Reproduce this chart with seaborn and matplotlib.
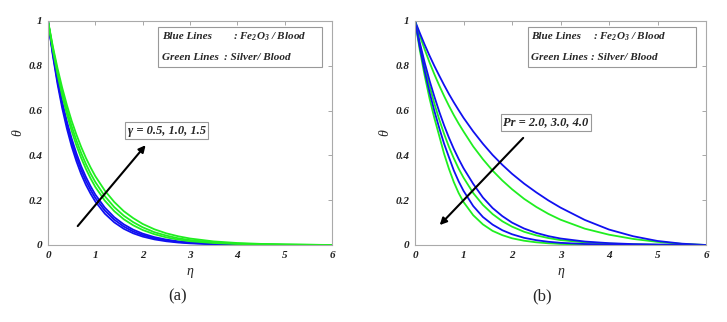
import matplotlib
matplotlib.use("Agg")
import matplotlib.pyplot as plt
import matplotlib.patches as patches
import seaborn as sns

sns.set_style("white")
plt.rcParams["font.family"] = ["Liberation Serif", "DejaVu Serif"]
plt.rcParams["mathtext.fontset"] = "custom"
plt.rcParams["mathtext.rm"] = "Liberation Serif:bold:italic"
plt.rcParams["mathtext.it"] = "Liberation Serif:bold:italic"

# ---- data ----
eta = [0, 0.1, 0.2, 0.3, 0.4, 0.5, 0.6, 0.7, 0.8, 0.9, 1.0, 1.2, 1.4, 1.6, 1.8,
       2.0, 2.25, 2.5, 2.75, 3.0, 3.5, 4.0, 4.5, 5.0, 5.5, 6.0]

# (a) gamma = 0.5, 1.0, 1.5  (blue: Fe2O3/Blood, green: Silver/Blood)
a_blue = [
    [1, 0.849, 0.720, 0.611, 0.519, 0.440, 0.374, 0.317, 0.269, 0.229, 0.194, 0.140, 0.101, 0.0725, 0.0522,
     0.0376, 0.0250, 0.0166, 0.0110, 0.0073, 0.0032, 0.0014, 0.0006, 0.0003, 0.0001, 0],
    [1, 0.856, 0.732, 0.626, 0.536, 0.458, 0.392, 0.336, 0.287, 0.246, 0.210, 0.154, 0.113, 0.0824, 0.0603,
     0.0442, 0.0299, 0.0202, 0.0137, 0.0093, 0.0043, 0.0019, 0.0009, 0.0004, 0.0002, 0],
    [1, 0.862, 0.742, 0.640, 0.551, 0.475, 0.409, 0.352, 0.304, 0.262, 0.225, 0.167, 0.124, 0.0922, 0.0684,
     0.0508, 0.0350, 0.0241, 0.0166, 0.0114, 0.0054, 0.0026, 0.0012, 0.0006, 0.0003, 0],
]
a_green = [
    [1, 0.874, 0.763, 0.667, 0.583, 0.509, 0.445, 0.389, 0.340, 0.297, 0.259, 0.198, 0.151, 0.115, 0.088,
     0.067, 0.048, 0.034, 0.024, 0.017, 0.0089, 0.0045, 0.0023, 0.0012, 0.0006, 0],
    [1, 0.881, 0.776, 0.683, 0.602, 0.530, 0.467, 0.411, 0.362, 0.319, 0.281, 0.218, 0.169, 0.131, 0.102,
     0.079, 0.057, 0.042, 0.030, 0.022, 0.012, 0.0062, 0.0033, 0.0017, 0.0009, 0],
    [1, 0.889, 0.790, 0.702, 0.624, 0.554, 0.493, 0.438, 0.389, 0.346, 0.307, 0.243, 0.192, 0.151, 0.120,
     0.094, 0.070, 0.052, 0.039, 0.029, 0.016, 0.0089, 0.0049, 0.0027, 0.0012, 0],
]

# (b) Pr = 2.0, 3.0, 4.0
b_blue = [
    [1, 0.946, 0.894, 0.845, 0.799, 0.756, 0.714, 0.674, 0.637, 0.602, 0.568, 0.507, 0.452, 0.402, 0.358,
     0.318, 0.274, 0.235, 0.199, 0.167, 0.112, 0.069, 0.039, 0.018, 0.006, 0],
    [1, 0.902, 0.814, 0.734, 0.662, 0.595, 0.534, 0.479, 0.429, 0.384, 0.343, 0.273, 0.212, 0.165, 0.129,
     0.100, 0.0735, 0.054, 0.0396, 0.029, 0.0155, 0.0082, 0.004, 0.002, 0.001, 0],
    [1, 0.882, 0.776, 0.682, 0.598, 0.522, 0.452, 0.392, 0.333, 0.284, 0.242, 0.174, 0.125, 0.091, 0.066,
     0.048, 0.032, 0.0215, 0.0144, 0.0097, 0.0044, 0.002, 0.0009, 0.0004, 0.0002, 0],
]
b_green = [
    [1, 0.934, 0.873, 0.815, 0.762, 0.712, 0.665, 0.621, 0.580, 0.542, 0.507, 0.440, 0.383, 0.332, 0.288,
     0.249, 0.206, 0.170, 0.139, 0.113, 0.073, 0.046, 0.027, 0.014, 0.005, 0],
    [1, 0.893, 0.796, 0.710, 0.631, 0.560, 0.496, 0.438, 0.387, 0.341, 0.301, 0.232, 0.179, 0.138, 0.106,
     0.082, 0.059, 0.043, 0.031, 0.022, 0.0117, 0.0061, 0.003, 0.0015, 0.0007, 0],
    [1, 0.869, 0.756, 0.654, 0.566, 0.487, 0.407, 0.340, 0.281, 0.232, 0.192, 0.133, 0.092, 0.063, 0.044,
     0.030, 0.019, 0.012, 0.0076, 0.0048, 0.0019, 0.0008, 0.0003, 0.0001, 0, 0],
]

x_ticks = [0, 1, 2, 3, 4, 5, 6]
x_tick_labels = ["0", "1", "2", "3", "4", "5", "6"]
y_ticks = [0, 0.2, 0.4, 0.6, 0.8, 1.0]
y_tick_labels = ["0", "0.2", "0.4", "0.6", "0.8", "1"]

BLUE = "#1010f0"
GREEN = "#20ee20"
EDGE = "#999999"


def style_axes(ax):
    ax.set_xlim(0, 6)
    ax.set_ylim(0, 1)
    ax.set_xticks(x_ticks)
    ax.set_xticklabels(x_tick_labels)
    ax.set_yticks(y_ticks)
    ax.set_yticklabels(y_tick_labels)
    ax.tick_params(direction="in", length=3, width=0.6, color=EDGE,
                   top=True, right=True, pad=4, labelsize=8, labelcolor="#222222")
    for lab in ax.get_xticklabels() + ax.get_yticklabels():
        lab.set_fontweight("bold")
        lab.set_fontstyle("italic")
    for s in ax.spines.values():
        s.set_color("#aaaaaa")
        s.set_linewidth(0.8)
    ax.set_xlabel("η", fontsize=10, fontstyle="italic", labelpad=4)
    ax.set_ylabel("θ", fontsize=10, fontstyle="italic", labelpad=3)


def legend_box(ax, lab_x, val_x1, val_x2):
    ax.add_patch(patches.Rectangle((0.388, 0.795), 0.577, 0.178, transform=ax.transAxes,
                                   facecolor="white", edgecolor=EDGE, linewidth=0.8, zorder=5))
    kw = dict(transform=ax.transAxes, fontsize=8, fontweight="bold", fontstyle="italic",
              va="center", ha="left", zorder=6)
    ax.text(lab_x, 0.929, "Blue Lines", **kw)
    ax.text(lab_x, 0.839, "Green Lines", **kw)
    ax.text(val_x1, 0.929, ": Fe$_2$O$_3$ / Blood", **kw)
    ax.text(val_x2, 0.839, ": Silver/ Blood", **kw)


fig = plt.figure(figsize=(7.27, 3.22), dpi=100)
ax_a = fig.add_axes([48 / 727, 77 / 322, 284 / 727, 224 / 322])
ax_b = fig.add_axes([415 / 727, 77 / 322, 291 / 727, 224 / 322])

# panel (a)
for vals in a_blue:
    sns.lineplot(x=eta, y=vals, ax=ax_a, color=BLUE, linewidth=1.3)
for vals in a_green:
    sns.lineplot(x=eta, y=vals, ax=ax_a, color=GREEN, linewidth=1.3)
style_axes(ax_a)
legend_box(ax_a, 0.401, 0.651, 0.620)
ax_a.text(0.419, 0.509, "γ = 0.5, 1.0, 1.5", transform=ax_a.transAxes, fontsize=9,
          fontweight="bold", fontstyle="italic", ha="center", va="center", zorder=6,
          bbox=dict(boxstyle="square,pad=0.2", fc="white", ec=EDGE, lw=0.8))
ax_a.annotate("", xy=(2.10, 0.455), xytext=(0.59, 0.075),
              arrowprops=dict(arrowstyle="-|>", color="black", lw=1.5, mutation_scale=10))

# panel (b)
for vals_g, vals_b in zip(b_green, b_blue):
    sns.lineplot(x=eta, y=vals_g, ax=ax_b, color=GREEN, linewidth=1.3)
    sns.lineplot(x=eta, y=vals_b, ax=ax_b, color=BLUE, linewidth=1.3)
style_axes(ax_b)
legend_box(ax_b, 0.398, 0.612, 0.606)
ax_b.text(0.450, 0.549, "Pr = 2.0, 3.0, 4.0", transform=ax_b.transAxes, fontsize=9,
          fontweight="bold", fontstyle="italic", ha="center", va="center", zorder=6,
          bbox=dict(boxstyle="square,pad=0.2", fc="white", ec=EDGE, lw=0.8))
ax_b.annotate("", xy=(0.47, 0.08), xytext=(2.27, 0.487),
              arrowprops=dict(arrowstyle="-|>", color="black", lw=1.5, mutation_scale=10))

fig.text(178 / 727, 1 - 296 / 322, "(a)", fontsize=12, ha="center", va="center")
fig.text(542 / 727, 1 - 296 / 322, "(b)", fontsize=12, ha="center", va="center")

fig.savefig("out.png", dpi=100)
